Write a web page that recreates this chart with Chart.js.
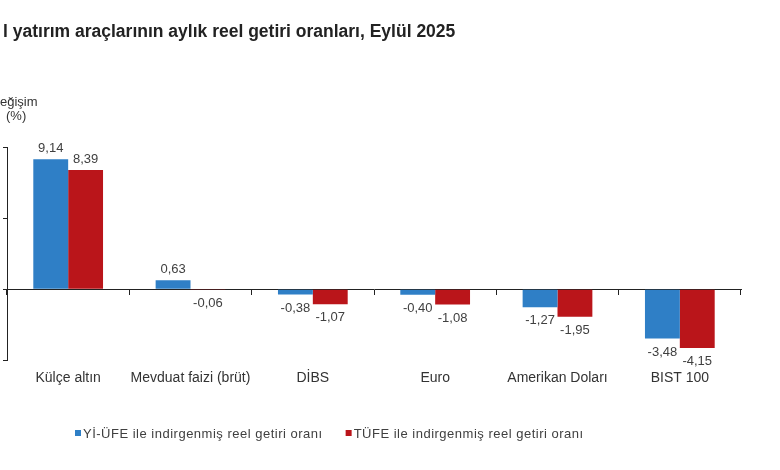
<!DOCTYPE html>
<html>
<head>
<meta charset="utf-8">
<script src="https://cdn.jsdelivr.net/npm/chart.js@4.4.1/dist/chart.umd.min.js"></script>
<style>
  html, body { margin: 0; padding: 0; background: #fff; }
  #wrap { width: 780px; height: 470px; }
</style>
</head>
<body>
<div id="wrap"><canvas id="reelChart"></canvas></div>
<script>
// data
const categories = ['Külçe altın', 'Mevduat faizi (brüt)', 'DİBS', 'Euro', 'Amerikan Doları', 'BIST 100'];
const yiUfeValues = [9.14, 0.63, -0.38, -0.40, -1.27, -3.48];
const tufeValues = [8.39, -0.06, -1.07, -1.08, -1.95, -4.15];
const seriesNames = ['Yİ-ÜFE ile indirgenmiş reel getiri oranı', 'TÜFE ile indirgenmiş reel getiri oranı'];
const yTicks = [-5, 0, 5, 10];

const titleText = 'l yatırım araçlarının aylık reel getiri oranları, Eylül 2025';
const BLUE = '#2f7fc6';
const RED = '#ba151a';
const FONT = "'Liberation Sans', Arial, sans-serif";

// value labels above / below every bar, plus axis caption and legend
const extrasPlugin = {
  id: 'extras',
  afterDatasetsDraw(chart) {
    const ctx = chart.ctx;
    ctx.save();
    ctx.font = '13px ' + FONT;
    ctx.fillStyle = '#404040';
    ctx.textAlign = 'center';
    chart.data.datasets.forEach((ds, i) => {
      chart.getDatasetMeta(i).data.forEach((bar, j) => {
        const v = ds.data[j];
        const txt = v.toFixed(2).replace('.', ',');
        if (v >= 0) {
          ctx.textBaseline = 'bottom';
          ctx.fillText(txt, bar.x, bar.y - 4);
        } else {
          ctx.textBaseline = 'top';
          ctx.fillText(txt, bar.x, bar.y + 7);
        }
      });
    });

    // y caption (cut off at the left edge like the source)
    ctx.font = '13px ' + FONT;
    ctx.fillStyle = '#333';
    ctx.textAlign = 'left';
    ctx.textBaseline = 'middle';
    ctx.fillText('eğişim', 0, 102);
    ctx.fillText('(%)', 6, 116);

    // legend
    ctx.font = '13px ' + FONT;
    ctx.letterSpacing = '0.5px';
    let x = 75;
    chart.data.datasets.forEach(ds => {
      ctx.fillStyle = ds.backgroundColor;
      ctx.fillRect(x, 430, 6, 6);
      ctx.fillStyle = '#404040';
      ctx.fillText(ds.label, x + 8, 434);
      x += 8 + ctx.measureText(ds.label).width + 23;
    });
    ctx.restore();
  }
};

new Chart(document.getElementById('reelChart'), {
  type: 'bar',
  data: {
    labels: categories,
    datasets: [
      { label: seriesNames[0], data: yiUfeValues, backgroundColor: BLUE, xAxisID: 'x' },
      { label: seriesNames[1], data: tufeValues, backgroundColor: RED, xAxisID: 'x' }
    ]
  },
  options: {
    responsive: true,
    maintainAspectRatio: false,
    animation: false,
    layout: { padding: { left: 3, right: 39, top: 0, bottom: 81 } },
    categoryPercentage: 0.57,
    barPercentage: 1.0,
    plugins: {
      legend: { display: false },
      tooltip: { enabled: false },
      title: {
        display: true,
        text: titleText,
        align: 'start',
        color: '#222',
        font: { family: FONT, size: 17.5, weight: 'bold' },
        padding: { top: 22, bottom: 104 }
      }
    },
    scales: {
      x: {
        type: 'category',
        position: { y: 0 },
        grid: { offset: true, drawOnChartArea: false, drawTicks: true, tickLength: 5, color: '#222' },
        border: { display: true, color: '#222', width: 1 },
        ticks: { display: false }
      },
      xLabels: {
        type: 'category',
        labels: categories,
        position: 'bottom',
        grid: { display: false },
        border: { display: false },
        ticks: { color: '#333', padding: 2, font: { family: FONT, size: 14 }, maxRotation: 0, autoSkip: false }
      },
      y: {
        min: yTicks[0],
        max: yTicks[yTicks.length - 1],
        afterBuildTicks(axis) { axis.ticks = yTicks.map(v => ({ value: v })); },
        grid: { drawOnChartArea: false, drawTicks: true, tickLength: 4, color: '#222' },
        border: { display: true, color: '#222', width: 1 },
        ticks: { display: false }
      }
    }
  },
  plugins: [extrasPlugin]
});
</script>
</body>
</html>
